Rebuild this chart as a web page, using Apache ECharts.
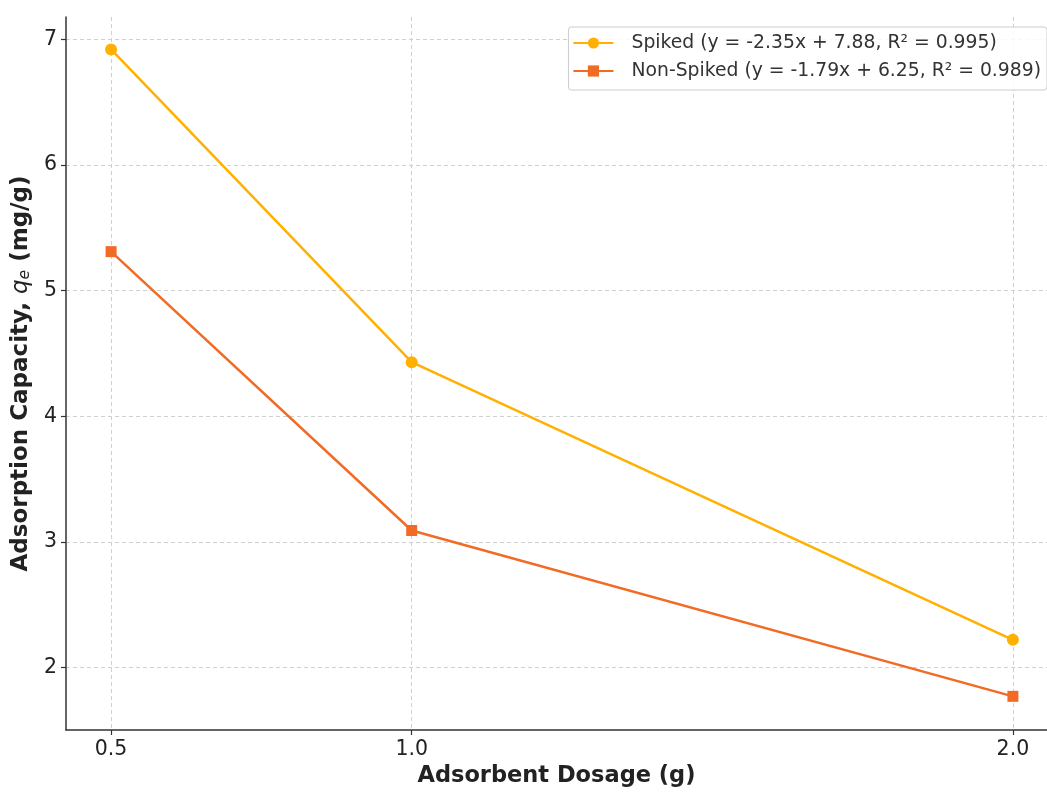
<!DOCTYPE html>
<html>
<head>
<meta charset="utf-8">
<script src="https://cdn.jsdelivr.net/npm/echarts@6/dist/echarts.min.js"></script>
<style>
html,body{margin:0;padding:0;background:#fff;}
#chart{width:1047px;height:793px;}
</style>
</head>
<body>
<div id="chart"></div>
<script>
const dosage = [0.5, 1.0, 2.0];
const spiked = [6.92, 4.43, 2.22];
const nonSpiked = [5.31, 3.09, 1.77];
const xTicks = [0.5, 1.0, 2.0];
const yTicks = [2, 3, 4, 5, 6, 7];
const seriesNames = ['Spiked (y = -2.35x + 7.88, R² = 0.995)', 'Non-Spiked (y = -1.79x + 6.25, R² = 0.989)'];
const xTitle = 'Adsorbent Dosage (g)';
const yTitle = 'Adsorption Capacity, {i|q}{s|e} (mg/g)';

const FONT = 'DejaVu Sans';
const chart = echarts.init(document.getElementById('chart'), null, {renderer: 'canvas'});
const axisCommon = {
  axisLine: {show: true, lineStyle: {color: '#333', width: 1.5}},
  axisTick: {show: true, inside: false, length: 5, lineStyle: {color: '#333', width: 1.2}},
  splitLine: {show: true, lineStyle: {color: '#d0d0d0', type: [4, 3], width: 1}},
  nameTextStyle: {fontFamily: FONT, fontSize: 22.5, fontWeight: 'bold', color: '#222'}
};
chart.setOption({
  animation: false,
  backgroundColor: '#fff',
  grid: {left: 66, top: 17, right: 0, bottom: 60, containLabel: false},
  legend: {
    orient: 'vertical', right: 0, top: 27,
    data: seriesNames,
    backgroundColor: 'rgba(255,255,255,0.85)',
    borderColor: '#cccccc', borderWidth: 1, borderRadius: 3,
    padding: [6, 6, 9, 4],
    itemWidth: 40, itemHeight: 14, itemGap: 8,
    textStyle: {fontFamily: FONT, fontSize: 18.8, lineHeight: 20, color: '#333', padding: [0, 0, 0, 13]}
  },
  xAxis: Object.assign({}, axisCommon, {
    type: 'value', min: 0.425, max: 2.0567,
    name: xTitle, nameLocation: 'middle', nameGap: 35,
    axisTick: Object.assign({}, axisCommon.axisTick, {customValues: xTicks}),
    axisLabel: {customValues: xTicks, margin: 9, fontFamily: FONT, fontSize: 20.5, color: '#222',
      formatter: v => v.toFixed(1)}
  }),
  yAxis: Object.assign({}, axisCommon, {
    type: 'value', min: 1.502, max: 7.178,
    name: yTitle, nameLocation: 'middle', nameGap: 32, nameRotate: 90,
    nameTextStyle: Object.assign({}, axisCommon.nameTextStyle, {
      fontSize: 23,
      rich: {
        i: {fontFamily: FONT, fontSize: 23, fontStyle: 'italic', fontWeight: 'normal', color: '#222'},
        s: {fontFamily: FONT, fontSize: 15.5, fontStyle: 'italic', fontWeight: 'normal', color: '#222', padding: [8, 0, 0, 0]}
      }
    }),
    axisTick: Object.assign({}, axisCommon.axisTick, {customValues: yTicks}),
    axisLabel: {customValues: yTicks, margin: 9, fontFamily: FONT, fontSize: 20.5, color: '#222'}
  }),
  series: [
    {
      name: seriesNames[0], type: 'line',
      data: dosage.map((x, i) => [x, spiked[i]]),
      symbol: 'circle', symbolSize: 12,
      lineStyle: {color: '#FFB000', width: 2.5},
      itemStyle: {color: '#FFB000'}
    },
    {
      name: seriesNames[1], type: 'line',
      data: dosage.map((x, i) => [x, nonSpiked[i]]),
      symbol: 'rect', symbolSize: 11,
      lineStyle: {color: '#F26B25', width: 2.5},
      itemStyle: {color: '#F26B25'}
    }
  ]
});
</script>
</body>
</html>
